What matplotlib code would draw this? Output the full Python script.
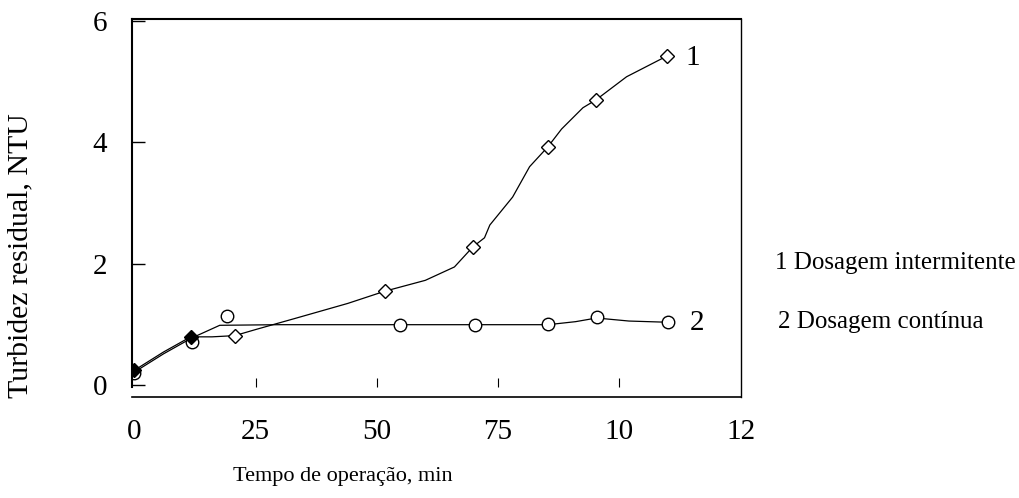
import numpy as np
import matplotlib
matplotlib.use("Agg")
from matplotlib import pyplot as plt

plt.rcParams['font.family'] = ['Liberation Serif', 'DejaVu Serif']

# measured points
x1 = [0, 11.6, 20.7, 51.6, 69.8, 85.3, 95.2, 109.8]
y1 = [0.25, 0.80, 0.82, 1.55, 2.28, 3.93, 4.70, 5.42]
x2 = [0, 11.8, 19.0, 54.7, 70.2, 85.3, 95.3, 110.0]
y2 = [0.20, 0.71, 1.14, 0.99, 0.99, 1.01, 1.13, 1.04]

# drawn curves
c1x = [0, 6, 11.6, 16, 20.7, 25, 33, 44, 51.6, 60, 66, 69.8, 72.2, 73.3, 78.0, 81.5, 85.3, 88.1, 92.5, 95.2, 101.5, 109.8]
c1y = [0.25, 0.55, 0.80, 0.80, 0.82, 0.92, 1.10, 1.35, 1.55, 1.73, 1.95, 2.28, 2.43, 2.64, 3.10, 3.60, 3.93, 4.22, 4.57, 4.70, 5.08, 5.42]
c2x = [0, 6, 11.8, 17.6, 30, 50, 70, 85.3, 91, 95.3, 102, 110.0]
c2y = [0.22, 0.52, 0.78, 0.99, 1.0, 1.0, 1.0, 1.0, 1.05, 1.11, 1.06, 1.04]

xticks = [0, 25, 50, 75, 100, 125]
xticklabels = ["0", "25", "50", "75", "10", "12"]
yticks = [0, 2, 4, 6]

fig = plt.figure(figsize=(10.19, 4.98), dpi=100)
ax = fig.add_axes([0.1295, 0.2028, 0.5977, 0.759])

ax.plot(c1x, c1y, color='black', lw=0.9)
ax.plot(c2x, c2y, color='black', lw=0.9)
ax.plot(x2, y2, ls='none', marker='o', ms=9, mfc='white', mec='black', mew=1.0)
ax.plot(x1[2:], y1[2:], ls='none', marker='D', ms=7, mfc='white', mec='black', mew=1.0)
ax.plot(x1[:2], y1[:2], ls='none', marker='D', ms=7, mfc='black', mec='black')

ax.set_xlim(-0.5, 125.1)
ax.set_ylim(-0.19, 6.03)

ax.set_yticks(yticks)
ax.set_yticklabels([str(v) for v in yticks], fontsize=21)
ax.tick_params(axis='y', direction='in', length=9.5, width=1.0, pad=18)

ax.set_xticks(xticks)
ax.set_xticklabels(xticklabels, fontsize=21)
ax.tick_params(axis='x', length=0, pad=16)
ax.vlines(xticks[1:5], -0.025, 0.125, color='black', lw=0.8)

for s in ['left', 'top']:
    ax.spines[s].set_linewidth(1.5)
ax.spines['right'].set_linewidth(1.0)
ax.spines['bottom'].set_linewidth(1.2)
ax.spines['left'].set_bounds(-0.02, 6.03)

ax.text(113.6, 5.39, "1", fontsize=21, va='center', ha='left')
ax.text(114.6, 1.03, "2", fontsize=21, va='center', ha='left')

fig.text(0.7605, 0.4719, "1 Dosagem intermitente", fontsize=18, va='center', ha='left')
fig.text(0.7635, 0.3534, "2 Dosagem contínua", fontsize=18, va='center', ha='left')
fig.text(0.3366, 0.0422, "Tempo de operação, min", fontsize=16, va='center', ha='center')
fig.text(0.0196, 0.486, "Turbidez residual, NTU", fontsize=21.5, va='center', ha='center', rotation=90)

fig.savefig("out.png", dpi=100)
